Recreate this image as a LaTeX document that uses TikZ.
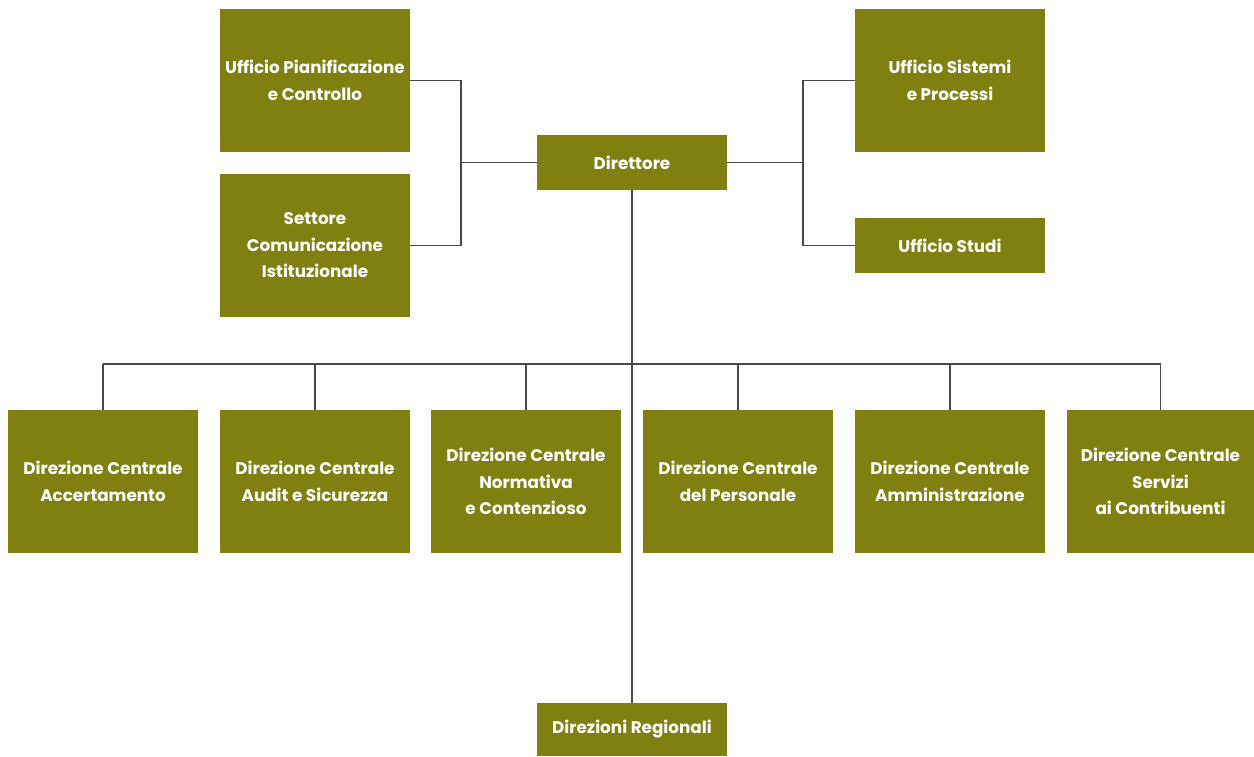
\documentclass[tikz,border=0pt]{standalone}
\usepackage{fontspec}
\setmainfont{Poppins}
\definecolor{olive}{HTML}{808010}
\definecolor{linec}{HTML}{4A4A4A}
\begin{document}
\begin{tikzpicture}[x=1pt,y=-1pt,
  box/.style={fill=olive,draw=none,text=white,align=center,inner sep=0pt,
    minimum width=190pt,font=\bfseries\fontsize{16.8}{26.5}\selectfont},
  tall/.style={box,minimum height=143pt},
  short/.style={box,minimum height=55pt},
  conn/.style={draw=linec,line width=1.3pt}]
\useasboundingbox (0,0) rectangle (1254,756);
\node[tall] (upc) at (315,80.5) {Ufficio Pianificazione\\e Controllo};
\node[tall] (sci) at (315,245.5) {Settore\\Comunicazione\\Istituzionale};
\node[short] (dir) at (632,162.5) {Direttore};
\node[tall] (usp) at (950,80.5) {Ufficio Sistemi\\e Processi};
\node[short] (ust) at (950,245.5) {Ufficio Studi};
\node[tall] (d1) at (103,481.5) {Direzione Centrale\\Accertamento};
\node[tall] (d2) at (315,481.5) {Direzione Centrale\\Audit e Sicurezza};
\node[tall] (d3) at (526,481.5) {Direzione Centrale\\Normativa\\e Contenzioso};
\node[tall] (d4) at (738,481.5) {Direzione Centrale\\del Personale};
\node[tall] (d5) at (950,481.5) {Direzione Centrale\\Amministrazione};
\node[tall,minimum width=187pt] (d6) at (1160.5,481.5) {Direzione Centrale\\Servizi\\ai Contribuenti};
\node[box,minimum height=53pt] (dr) at (632,729.5) {Direzioni Regionali};
\coordinate (lb) at (461,162.5);
\coordinate (rb) at (803,162.5);
\coordinate (bus) at (632,364);
\draw[conn] (upc.east) -| (lb) |- (sci.east);
\draw[conn] (lb) -- (dir.west);
\draw[conn] (usp.west) -| (rb) |- (ust.west);
\draw[conn] (dir.east) -- (rb);
\draw[conn] (dir.south) -- (dr.north);
\draw[conn] (d1.north |- bus) -- (d6.north |- bus);
\foreach \n in {d1,d2,d3,d4,d5,d6} \draw[conn] (\n.north) -- (\n.north |- bus);
\end{tikzpicture}
\end{document}
